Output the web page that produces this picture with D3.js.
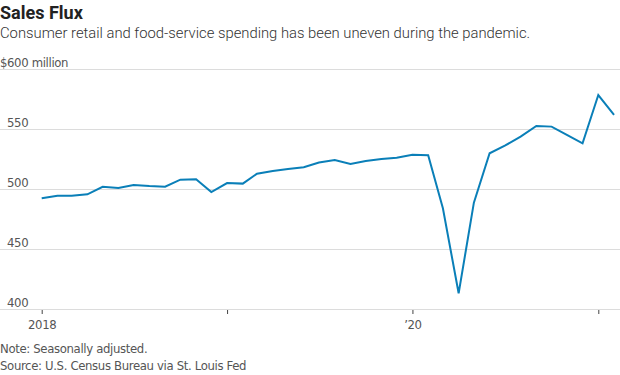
<!DOCTYPE html>
<html>
<head>
<meta charset="utf-8">
<script src="https://cdn.jsdelivr.net/npm/d3@7"></script>
<style>
  body { margin: 0; background: #fff; }
  svg { display: block; }
  .title { font-family: "Roboto", "Noto Sans", sans-serif; font-weight: 700; font-size: 18px; fill: #222; }
  .subtitle { font-family: "Roboto", "Noto Sans", sans-serif; font-weight: 300; font-size: 14.8px; fill: #333; }
  .tick text, .ylab, .note { font-family: "Liberation Sans Narrow", "DejaVu Sans Condensed", sans-serif; font-size: 13px; fill: #555; letter-spacing: -0.35px; }
</style>
</head>
<body>
<div id="chart"></div>
<script>
var W = 620, H = 375;

// monthly, Jan 2018 .. Feb 2021, $ millions
var startMonth = [2018, 0];
var sales = [
  492.7, 494.8, 494.8, 496.0, 502.3, 501.3, 503.8, 502.9, 502.3, 508.2, 508.5, 497.9,
  505.4, 504.9, 513.2, 515.4, 517.0, 518.5, 522.5, 524.6, 521.3, 523.8, 525.4, 526.5,
  529.0, 528.6, 484.3, 413.5, 489.0, 530.2, 536.5, 544.0, 552.9, 552.4, 545.4, 538.5,
  578.7, 562.1
];
var yTicks = [400, 450, 500, 550, 600];
var xTickYears = [2018, 2019, 2020, 2021];
var xTickLabels = {2018: "2018", 2020: "\u201920"};

var data = sales.map(function(v, i) {
  return { date: new Date(startMonth[0], startMonth[1] + i, 1), value: v };
});

var svg = d3.select("#chart").append("svg")
  .attr("width", W).attr("height", H);

var x = d3.scaleTime()
  .domain([new Date(2018, 0, 1), new Date(2021, 0, 1)])
  .range([41.7, 598.3]);
var y = d3.scaleLinear()
  .domain([400, 600])
  .range([309.5, 69.5]);

svg.append("text").attr("class", "title").attr("x", 0).attr("y", 19).text("Sales Flux");
svg.append("text").attr("class", "subtitle").attr("x", 0).attr("y", 38)
  .text("Consumer retail and food-service spending has been uneven during the pandemic.");

// grid
svg.append("g").selectAll("line")
  .data(yTicks)
  .enter()
  .append("line")
  .attr("x1", 0).attr("x2", W)
  .attr("y1", function(d) { return y(d); })
  .attr("y2", function(d) { return y(d); })
  .attr("stroke", "#dcdcdc")
  .attr("stroke-width", 1);

svg.append("g").selectAll("text")
  .data(yTicks)
  .enter()
  .append("text")
  .attr("class", "ylab")
  .attr("x", 7)
  .attr("y", function(d) { return y(d) - 2.5; })
  .text(function(d) { return d === 600 ? d + " million" : d; });
svg.append("text").attr("class", "ylab")
  .attr("x", 7).attr("y", y(600) - 2.5)
  .attr("text-anchor", "end").text("$");

// x axis
var xAxis = d3.axisBottom(x)
  .tickValues(xTickYears.map(function(yr) { return new Date(yr, 0, 1); }))
  .tickSize(4)
  .tickPadding(4)
  .tickFormat(function(d) { return xTickLabels[d.getFullYear()] || ""; });
var gx = svg.append("g")
  .attr("transform", "translate(0," + (y(400) + 0.5) + ")")
  .call(xAxis);
gx.select(".domain").remove();
gx.selectAll(".tick line").attr("stroke", "#444");
gx.selectAll(".tick text").attr("fill", "#555").attr("dy", "0.85em");

// line
var line = d3.line()
  .x(function(d) { return x(d.date); })
  .y(function(d) { return y(d.value); });
svg.append("path")
  .datum(data)
  .attr("d", line)
  .attr("fill", "none")
  .attr("stroke", "#0a7fb8")
  .attr("stroke-width", 2)
  .attr("stroke-linejoin", "miter");

svg.append("text").attr("class", "note").attr("x", 0).attr("y", 353).text("Note: Seasonally adjusted.");
svg.append("text").attr("class", "note").attr("x", 0).attr("y", 370).text("Source: U.S. Census Bureau via St. Louis Fed");
</script>
</body>
</html>
